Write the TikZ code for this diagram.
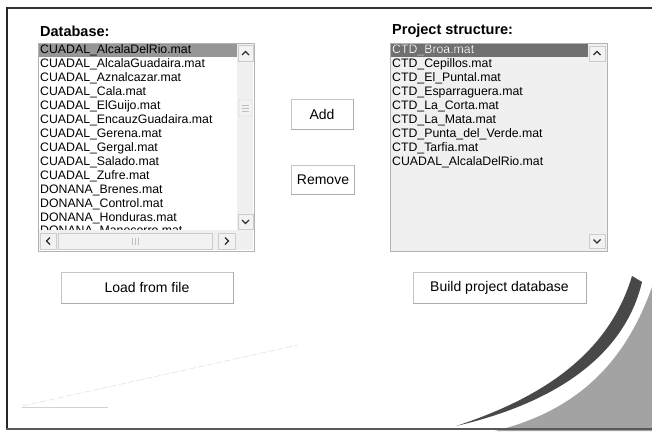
\documentclass[tikz,border=0pt]{standalone}
\usepackage{fontspec}
\setmainfont{Liberation Sans}
\usetikzlibrary{positioning}
\definecolor{curvegray}{RGB}{163,163,163}
\definecolor{swoosh}{RGB}{72,72,72}
\definecolor{selgray}{RGB}{150,150,150}
\definecolor{seldark}{RGB}{112,112,112}
\definecolor{track}{RGB}{240,240,240}

\begin{document}
\begin{tikzpicture}[x=1pt,y=-1pt,
  btn/.style={draw=gray!45,fill=white,inner sep=0pt,font=\fontsize{14}{16}\selectfont},
  item/.style={anchor=west,inner sep=0pt,font=\fontsize{12.3}{13}\selectfont},
  head/.style={anchor=west,inner sep=0pt,font=\fontsize{14.5}{16}\selectfont\bfseries},
  arrbtn/.style={draw=gray!40,fill=gray!10},
  chev/.style={draw=gray!35!black,line width=1.1pt}]
  \useasboundingbox (0,0) rectangle (652,431);
  % frame and bottom-right decoration
  \fill[curvegray] (652,287) .. controls (626,360) and (580,410) .. (495,431) -- (652,431) -- cycle;
  \fill[swoosh] (632,276) .. controls (612,342) and (560,392) .. (456,426)
    .. controls (564,401) and (626,350) .. (642,282) -- cycle;
  \draw[gray!30,dash pattern=on 7pt off 2pt] (22,406) -- (298,345);
  \draw[gray!35] (22,407) -- (108,407);
  \draw[black!80,line width=1.5pt] (6,8) -- (652,8);
  \draw[black!85,line width=2.5pt] (7,7) -- (7,429);
  \draw[gray!70!black,line width=1.5pt] (6,429) -- (652,429);

  % headings
  \node[head] (dbhead) at (40,31) {Database:};
  \node[head] (prhead) at (392,31) {Project structure:};

  % left list
  \draw[gray!60,fill=white] (38,43) rectangle (254,251);
  \fill[selgray] (39,44) rectangle (237,57);
  \begin{scope}
    \clip (39,44) rectangle (237,230);
    \foreach \t [count=\n] in {CUADAL\_AlcalaDelRio.mat,CUADAL\_AlcalaGuadaira.mat,
        CUADAL\_Aznalcazar.mat,CUADAL\_Cala.mat,CUADAL\_ElGuijo.mat,
        CUADAL\_EncauzGuadaira.mat,CUADAL\_Gerena.mat,CUADAL\_Gergal.mat,
        CUADAL\_Salado.mat,CUADAL\_Zufre.mat,DONANA\_Brenes.mat,
        DONANA\_Control.mat,DONANA\_Honduras.mat,DONANA\_Manecorro.mat}
      \node[item] (db\n) at (40,{50.5+13.95*(\n-1)}) {\t};
  \end{scope}
  \fill[track] (237,44) rectangle (253,230);
  \fill[track] (39,230) rectangle (253,250);
  \draw[arrbtn] (238,45) rectangle (253,61);
  \draw[chev] (242,55) -- (245.5,51.5) -- (249,55);
  \draw[arrbtn] (238,214) rectangle (253,229);
  \draw[chev] (242,220) -- (245.5,223.5) -- (249,220);
  \draw[arrbtn,rounded corners=1pt] (239,100) rectangle (252,116);
  \foreach \g in {105,108,111}
    \draw[gray!50] (242,\g) -- (249,\g);
  \draw[arrbtn] (40,233) rectangle (56,249);
  \draw[chev] (50,237.5) -- (46.5,241) -- (50,244.5);
  \draw[arrbtn] (58,233) rectangle (212,249);
  \foreach \g in {132,135,138}
    \draw[gray!50] (\g,237.5) -- (\g,244.5);
  \draw[arrbtn] (218,233) rectangle (235,249);
  \draw[chev] (225,237.5) -- (228.5,241) -- (225,244.5);

  % right list
  \draw[gray!60,fill=track] (390,43) rectangle (607,251);
  \fill[seldark] (391,44) rectangle (588,57);
  \foreach \t [count=\n] in {CTD\_Broa.mat,CTD\_Cepillos.mat,CTD\_El\_Puntal.mat,
      CTD\_Esparraguera.mat,CTD\_La\_Corta.mat,CTD\_La\_Mata.mat,
      CTD\_Punta\_del\_Verde.mat,CTD\_Tarfia.mat,CUADAL\_AlcalaDelRio.mat}
    \node[item] (pr\n) at (392,{50.5+13.95*(\n-1)}) {\t};
  \node[item,text=white] at (pr1.west) {CTD\_Broa.mat};
  \draw[arrbtn] (589,46) rectangle (605,61);
  \draw[chev] (593.5,55) -- (597,51.5) -- (600.5,55);
  \draw[arrbtn] (589,234) rectangle (605,248);
  \draw[chev] (593.5,239.5) -- (597,243) -- (600.5,239.5);

  % buttons
  \node[btn,minimum width=62pt,minimum height=30pt] (add) at (322,114) {Add};
  \node[btn,minimum width=63pt,minimum height=29pt] (remove) at (323,180) {Remove};
  \node[btn,minimum width=172pt,minimum height=31pt] (load) at (147,287.5) {Load from file};
  \node[btn,minimum width=173pt,minimum height=31pt] (build) at (499.5,287.5) {Build project database};
  \foreach \b in {add,remove,load,build}
    \draw[gray!65,line width=1.4pt] (\b.south west) -- (\b.south east) -- (\b.north east);
\end{tikzpicture}
\end{document}
